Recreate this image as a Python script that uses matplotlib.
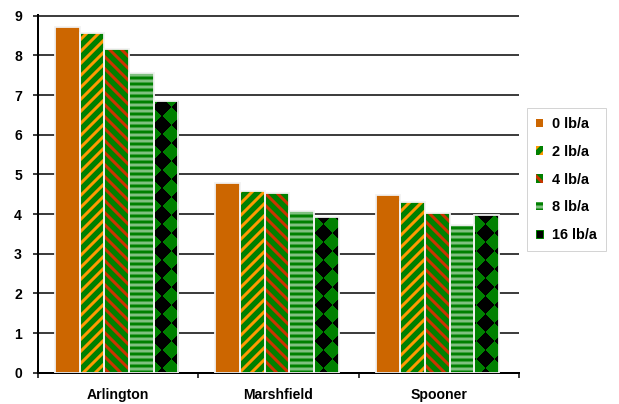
import numpy as np
import matplotlib.pyplot as plt
from matplotlib.colors import ListedColormap
from matplotlib.patches import Patch

sites = ['Arlington', 'Marshfield', 'Spooner']
rates = ['0 lb/a', '2 lb/a', '4 lb/a', '8 lb/a', '16 lb/a']
yield_0 = [8.72, 4.78, 4.48]
yield_2 = [8.56, 4.57, 4.31]
yield_4 = [8.15, 4.53, 4.02]
yield_8 = [7.56, 4.07, 3.72]
yield_16 = [6.85, 3.93, 3.98]
series = [yield_0, yield_2, yield_4, yield_8, yield_16]

# face colour, hatch, hatch colour for each rate
styles = [
    ('#cc6600', None, '#cc6600'),
    ('#008000', '//', '#ff9900'),
    ('#008000', '\\\\', '#cc3300'),
    ('#008000', '--', '#80c080'),
    ('#008000', None, '#000000'),
]

plt.rcParams['font.family'] = ['Liberation Sans', 'DejaVu Sans']
plt.rcParams['font.weight'] = 'bold'
plt.rcParams['hatch.linewidth'] = 3.0

DPI = 72
W, H = 619, 404
fig = plt.figure(figsize=(W / DPI, H / DPI), dpi=DPI)
ax = fig.add_axes([38 / W, (H - 372.7) / H, 481 / W, 358.2 / H])
ax.set_xlim(0, 3)
ax.set_ylim(0, 9.03)

x = np.arange(len(sites)) + 0.49
bw = 0.154
offs = (np.arange(len(rates)) - 2) * bw

bars = []
for k, vals in enumerate(series):
    fc, hatch, hc = styles[k]
    b = ax.bar(x + offs[k], vals, bw, color=fc, edgecolor=hc, hatch=hatch,
               linewidth=0, zorder=1)
    bars.append(b)
    ax.bar(x + offs[k], vals, bw, fill=False, edgecolor='#f2f2f2',
           linewidth=1.8, zorder=3)

# diamond checker for 16 lb/a, drawn in pixel space and clipped to each bar
cmap = ListedColormap(['#008000', '#000000'])
s = 18.0
for p in bars[4].patches:
    (x0, y0), (x1, y1) = ax.transData.transform(
        [[p.get_x(), 0], [p.get_x() + p.get_width(), p.get_height()]])
    px = np.arange(np.floor(x0), np.ceil(x1)) + 0.5
    py = np.arange(np.floor(y0), np.ceil(y1)) + 0.5
    X, Y = np.meshgrid(px, py)
    pat = (np.floor((X + Y) / s) + np.floor((X - Y) / s)) % 2
    (dx0, dy0), (dx1, dy1) = ax.transData.inverted().transform(
        [[px[0] - 0.5, py[0] - 0.5], [px[-1] + 0.5, py[-1] + 0.5]])
    im = ax.imshow(pat, cmap=cmap, origin='lower', extent=(dx0, dx1, dy0, dy1),
                   interpolation='nearest', aspect='auto', zorder=2)
    im.set_clip_path(p)

ax.set_xlim(0, 3)
ax.set_ylim(0, 9.03)

ax.set_axisbelow(True)
ax.yaxis.grid(True, color='black', linewidth=1.5)
ax.set_yticks(range(10))
ax.tick_params(axis='y', direction='out', length=5, width=1.5, pad=11,
               labelsize=14)
ax.set_xticks([0, 1, 2, 3])
ax.set_xticklabels([])
ax.set_xticks([0.5, 1.5, 2.5], minor=True)
ax.set_xticklabels(sites, minor=True, fontsize=14)
ax.tick_params(axis='x', which='major', direction='out', length=5, width=1.5)
ax.tick_params(axis='x', which='minor', length=0, pad=15)
for sp in ['top', 'right']:
    ax.spines[sp].set_visible(False)
for sp in ['left', 'bottom']:
    ax.spines[sp].set_linewidth(2)

handles = []
for k in range(len(rates)):
    fc, hatch, hc = styles[k]
    if k == 4:
        handles.append(Patch(facecolor='#000000', edgecolor='#008000',
                             linewidth=1))
    else:
        handles.append(Patch(facecolor=fc, edgecolor=hc, hatch=hatch,
                             linewidth=0))
leg = fig.legend(handles, rates, loc='upper left',
                 bbox_to_anchor=(527 / W, 1 - 108 / H), borderaxespad=0,
                 fontsize=14.5, handlelength=0.5, handleheight=0.5,
                 handletextpad=0.6, labelspacing=0.95, borderpad=0.62,
                 fancybox=False, framealpha=1, edgecolor='#d4d4d4')
leg.get_frame().set_linewidth(1)

fig.savefig('out.png', dpi=DPI)
